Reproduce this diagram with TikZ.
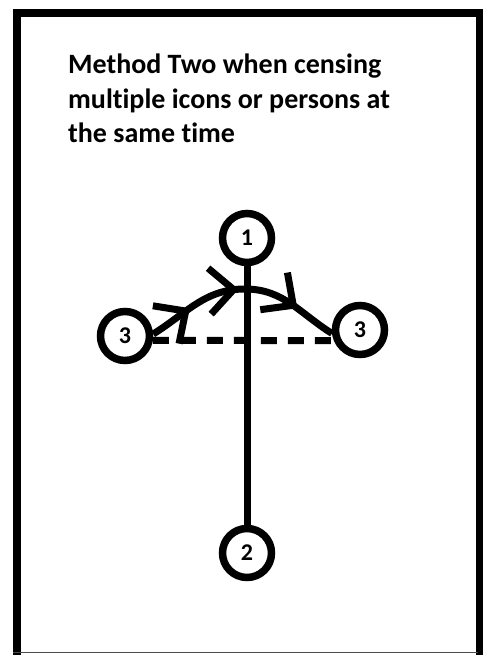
\documentclass[tikz,border=0pt]{standalone}
\usepackage{fontspec}
\setmainfont{Carlito}[Ligatures=NoCommon]
\usetikzlibrary{arrows.meta,decorations.markings}
\begin{document}
\begin{tikzpicture}[x=1pt,y=1pt,
  person/.style={circle,draw,line width=7.5pt,minimum size=49pt,inner sep=0pt,
    font=\fontsize{24}{29}\selectfont\bfseries},
  titleline/.style={anchor=base west,inner sep=0pt,font=\fontsize{28}{33}\selectfont\bfseries},
  stroke/.style={line width=7pt},
  barb/.tip={Straight Barb[length=24pt,width=46pt]},
  chevrons/.style={postaction=decorate,decoration={markings,
    mark=at position 0.22 with {\arrow{barb}},
    mark=at position 0.48 with {\arrow{barb}},
    mark=at position 0.79 with {\arrow{barb}}}}
]
\useasboundingbox (0,0) rectangle (482,655);
% frame
\draw[line width=8pt] (17,0) -- (17,642) -- (480,642) -- (480,0);
\draw[line width=1pt,black!70] (13,2) -- (478,2);
% title
\node[titleline] (t1) at (68,581) {Method Two when censing};
\node[titleline] (t2) at (68,546.5) {multiple icons or persons at};
\node[titleline] (t3) at (68,512) {the same time};
% persons
\node[person] (c1) at (247,417) {1};
\node[person] (c2) at (247,102) {2};
\node[person] (c3L) at (125,319) {3};
\node[person] (c3R) at (360,325) {3};
\coordinate (peak) at (245,366);
% connectors
\draw[stroke] (c1) -- (c2);
\draw[stroke,dash pattern=on 16pt off 11pt] (c3L.-9) -- (c3R.202);
\draw[stroke,chevrons] (c3L.4) to[out=32,in=180] (peak) to[out=0,in=148] (c3R.187);
\end{tikzpicture}
\end{document}
